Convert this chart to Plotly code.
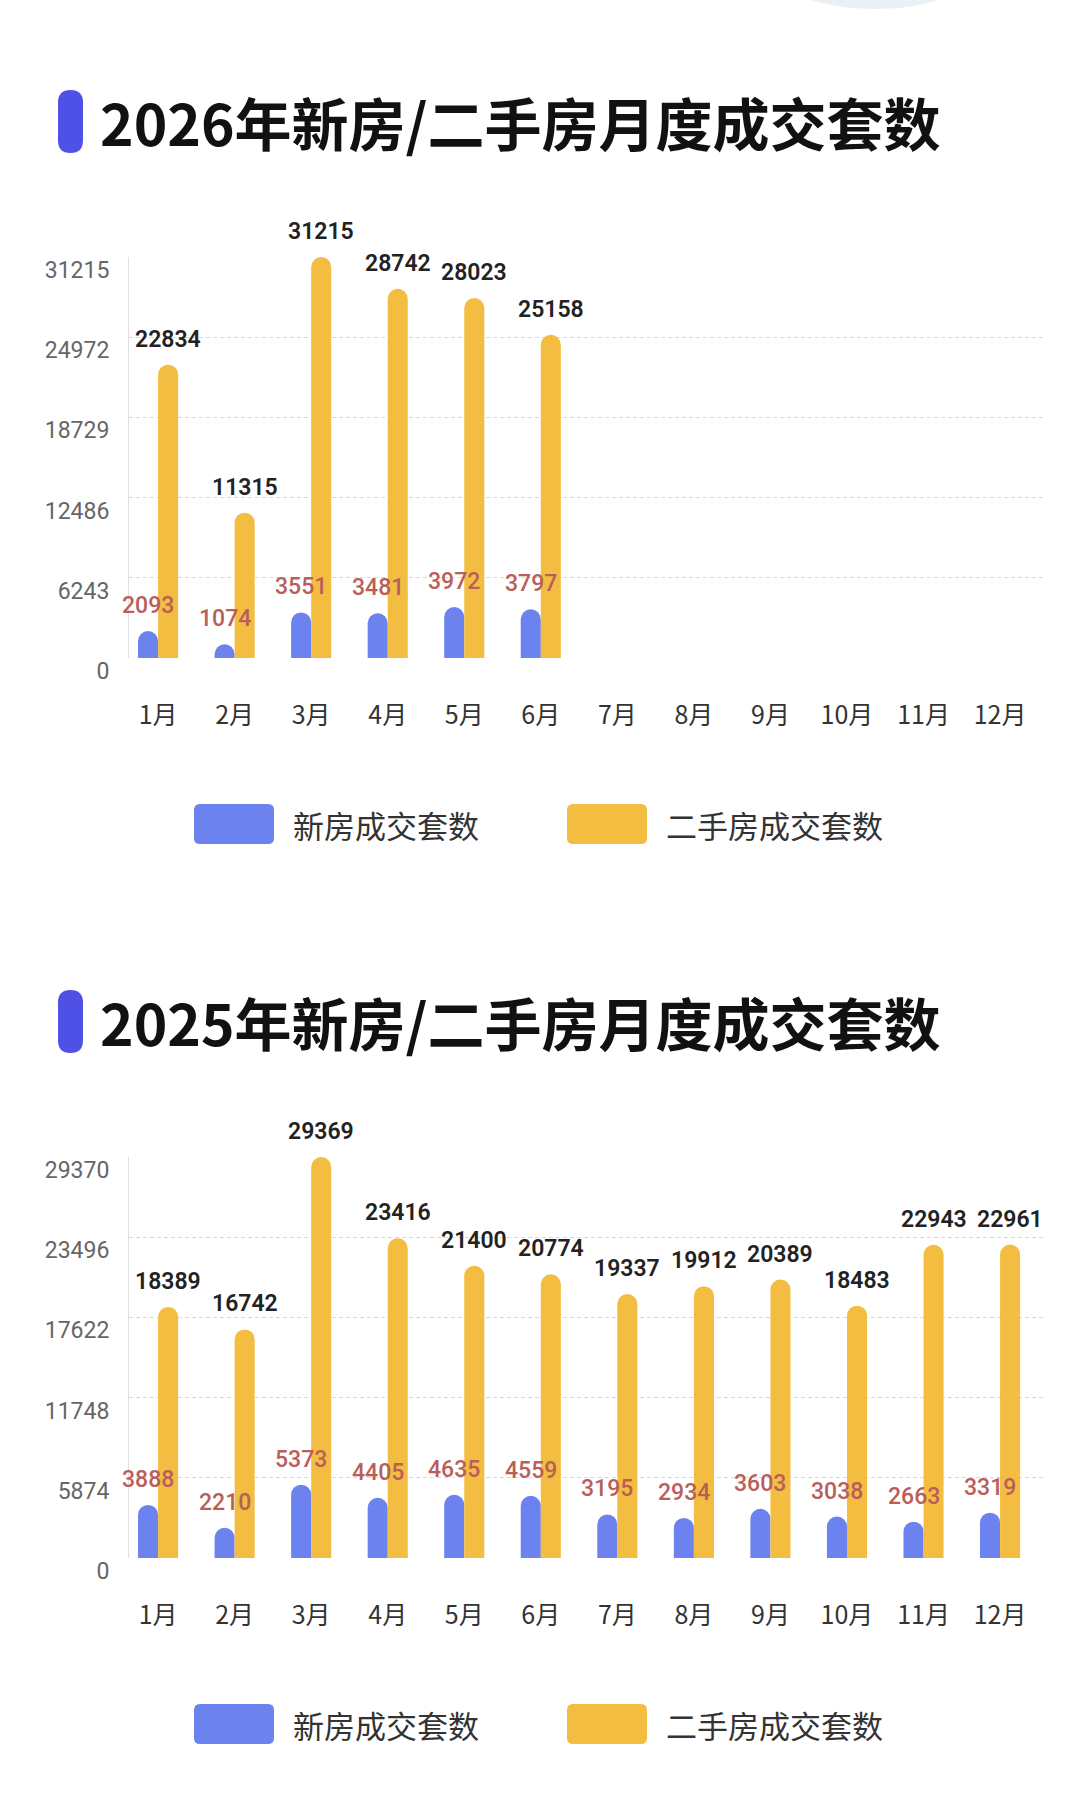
import plotly.graph_objects as go

W, H = 1080, 1803

months = ["1月", "2月", "3月", "4月", "5月", "6月", "7月", "8月", "9月", "10月", "11月", "12月"]

new_2026 = [2093, 1074, 3551, 3481, 3972, 3797, 0, 0, 0, 0, 0, 0]
used_2026 = [22834, 11315, 31215, 28742, 28023, 25158, 0, 0, 0, 0, 0, 0]
ticks_2026 = [0, 6243, 12486, 18729, 24972, 31215]

new_2025 = [3888, 2210, 5373, 4405, 4635, 4559, 3195, 2934, 3603, 3038, 2663, 3319]
used_2025 = [18389, 16742, 29369, 23416, 21400, 20774, 19337, 19912, 20389, 18483, 22943, 22961]
ticks_2025 = [0, 5874, 11748, 17622, 23496, 29370]

titles = ["2026年新房/二手房月度成交套数", "2025年新房/二手房月度成交套数"]
legend_names = ["新房成交套数", "二手房成交套数"]

BLUE = "#6C83EF"
YELLOW = "#F3BD42"
LABEL_RED = "#BA5E5A"
CJK = "Noto Sans CJK SC"
NUM = "Roboto"


def px(x):
    return x / W


def py(y):
    return 1 - y / H


def rrect(x0, y0, x1, y1, r):
    rx, ry = r / W, r / H
    X0, X1 = px(x0), px(x1)
    Y0, Y1 = py(y0), py(y1)
    return (f"M{X0+rx},{Y0} L{X1-rx},{Y0} Q{X1},{Y0} {X1},{Y0-ry} "
            f"L{X1},{Y1+ry} Q{X1},{Y1} {X1-rx},{Y1} L{X0+rx},{Y1} "
            f"Q{X0},{Y1} {X0},{Y1+ry} L{X0},{Y0-ry} Q{X0},{Y0} {X0+rx},{Y0} Z")


fig = go.Figure()

charts = [
    dict(new=new_2026, used=used_2026, ticks=ticks_2026, xa="x", ya="y", dy=0),
    dict(new=new_2025, used=used_2025, ticks=ticks_2025, xa="x2", ya="y2", dy=900),
]

annotations = []
shapes = []

for ci, c in enumerate(charts):
    fig.add_trace(go.Bar(x=months, y=c["new"], name=legend_names[0], marker=dict(color=BLUE, cornerradius=10),
                         xaxis=c["xa"], yaxis=c["ya"], offsetgroup="a", showlegend=False, hoverinfo="skip"))
    fig.add_trace(go.Bar(x=months, y=c["used"], name=legend_names[1], marker=dict(color=YELLOW, cornerradius=10),
                         xaxis=c["xa"], yaxis=c["ya"], offsetgroup="b", showlegend=False, hoverinfo="skip"))
    for m, v in zip(months, c["new"]):
        if v:
            annotations.append(dict(x=m, y=v, xref=c["xa"], yref=c["ya"], text=str(v), showarrow=False,
                                    xshift=-10, yshift=10, yanchor="bottom",
                                    font=dict(family=NUM, size=23, color=LABEL_RED, weight=500)))
    for m, v in zip(months, c["used"]):
        if v:
            annotations.append(dict(x=m, y=v, xref=c["xa"], yref=c["ya"], text=str(v), showarrow=False,
                                    xshift=10, yshift=10, yanchor="bottom",
                                    font=dict(family=NUM, size=23, color="#222222", weight=600)))
    dy = c["dy"]
    shapes.append(dict(type="path", xref="paper", yref="paper", path=rrect(58, 90 + dy, 83, 153 + dy, 12.5),
                       fillcolor="#4E50E6", line=dict(width=0)))
    annotations.append(dict(x=px(98), y=py(121 + dy), xref="paper", yref="paper", text="<b>" + titles[ci] + "</b>",
                            showarrow=False, xanchor="left", yanchor="middle",
                            font=dict(family=CJK, size=57, color="#111111")))
    for li, (x0, col) in enumerate([(194, BLUE), (567, YELLOW)]):
        shapes.append(dict(type="path", xref="paper", yref="paper", path=rrect(x0, 804 + dy, x0 + 80, 844 + dy, 6),
                           fillcolor=col, line=dict(width=0)))
        annotations.append(dict(x=px(x0 + 97), y=py(824 + dy), xref="paper", yref="paper", text=legend_names[li],
                                showarrow=False, xanchor="left", yanchor="middle",
                                font=dict(family=CJK, size=31, color="#333333")))

shapes.append(dict(type="circle", xref="paper", yref="paper", x0=px(775), x1=px(975), y0=py(9), y1=py(-70),
                   fillcolor="#EAF0F4", line=dict(width=0), layer="below"))

xa_common = dict(type="category", domain=[px(129), px(1046)], range=[-0.38, 11.6], showgrid=False, zeroline=False,
                 showline=False, ticks="", tickfont=dict(family=CJK, size=25, color="#333333"),
                 ticklabelstandoff=40, fixedrange=True, automargin=False)


def ya(top, bottom, ticks):
    return dict(domain=[py(bottom), py(top)], range=[0, ticks[-1]], tickmode="array", tickvals=ticks,
                ticktext=[str(t) for t in ticks], showgrid=True, gridcolor="#D9D9D9", griddash="4px,3px", gridwidth=1,
                zeroline=False, showline=True, linecolor="#E0E0E0", linewidth=1, ticks="",
                tickfont=dict(family=NUM, size=23, color="#666666"), ticklabelstandoff=14, ticklabelshift=13,
                fixedrange=True, automargin=False)


fig.update_layout(
    template="none",
    width=W, height=H, margin=dict(l=0, r=0, t=0, b=0, pad=0, autoexpand=False),
    paper_bgcolor="white", plot_bgcolor="white",
    barmode="group", bargap=0.476, bargroupgap=0,
    xaxis=dict(xa_common, anchor="y"),
    xaxis2=dict(xa_common, anchor="y2"),
    yaxis=ya(257, 658, ticks_2026) | dict(anchor="x"),
    yaxis2=ya(1157, 1558, ticks_2025) | dict(anchor="x2"),
    annotations=annotations, shapes=shapes, showlegend=False,
)

fig.write_html("out.html", config={"displayModeBar": False},
               post_script="document.body.style.margin='0';document.body.style.overflow='hidden';")
